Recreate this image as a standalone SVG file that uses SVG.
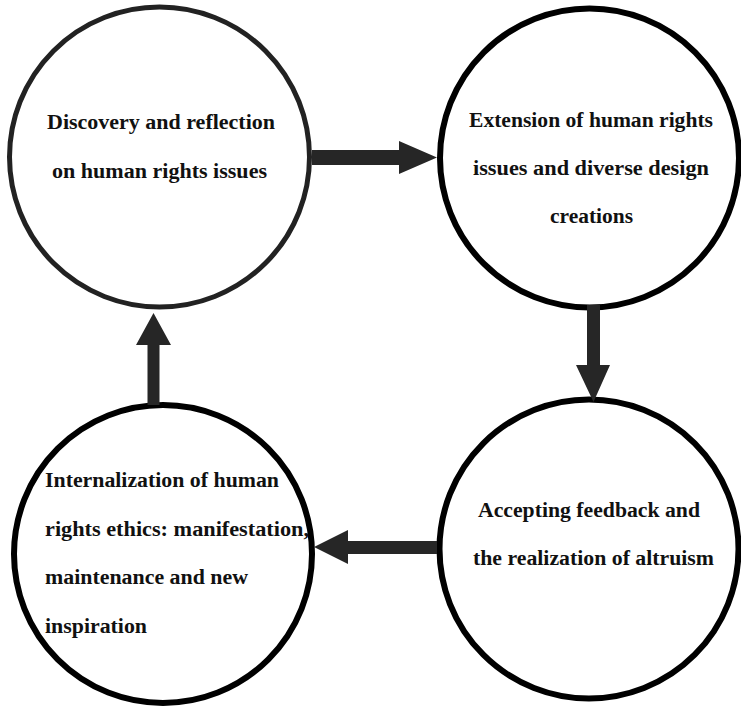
<svg xmlns="http://www.w3.org/2000/svg" width="741" height="706" viewBox="0 0 741 706">
  <style>
    .node { fill: #ffffff; stroke: #000000; stroke-width: 6; }
    .node1 { stroke: #222222; stroke-width: 5; }
    .lbl { font-family: "Liberation Serif", "Times New Roman", serif; font-weight: bold; font-size: 20px; fill: #111111; }
    .arrow { fill: #262626; stroke: none; }
  </style>
  <rect x="0" y="0" width="741" height="706" fill="#ffffff"/>

  <g id="node-discovery">
    <circle class="node node1" cx="159.5" cy="157" r="150"/>
    <text class="lbl" x="47" y="129" textLength="228" lengthAdjust="spacingAndGlyphs">Discovery and reflection</text>
    <text class="lbl" x="52" y="178" textLength="215" lengthAdjust="spacingAndGlyphs">on human rights issues</text>
  </g>

  <g id="node-extension">
    <circle class="node" cx="589.5" cy="158" r="149.5"/>
    <text class="lbl" x="469" y="127" textLength="244" lengthAdjust="spacingAndGlyphs">Extension of human rights</text>
    <text class="lbl" x="473" y="175" textLength="236" lengthAdjust="spacingAndGlyphs">issues and diverse design</text>
    <text class="lbl" x="550" y="223" textLength="83" lengthAdjust="spacingAndGlyphs">creations</text>
  </g>

  <g id="node-feedback">
    <circle class="node" cx="589" cy="549" r="149.5"/>
    <text class="lbl" x="478" y="517" textLength="222" lengthAdjust="spacingAndGlyphs">Accepting feedback and</text>
    <text class="lbl" x="473" y="565" textLength="241" lengthAdjust="spacingAndGlyphs">the realization of altruism</text>
  </g>

  <g id="node-internalization">
    <circle class="node" cx="163" cy="554" r="149"/>
    <text class="lbl" x="45" y="487" textLength="234" lengthAdjust="spacingAndGlyphs">Internalization of human</text>
    <text class="lbl" x="45" y="536" textLength="264" lengthAdjust="spacingAndGlyphs">rights ethics: manifestation,</text>
    <text class="lbl" x="45" y="584" textLength="203" lengthAdjust="spacingAndGlyphs">maintenance and new</text>
    <text class="lbl" x="45" y="633" textLength="102" lengthAdjust="spacingAndGlyphs">inspiration</text>
  </g>

  <g id="connectors">
    <path class="arrow" d="M312,150 L399,150 L399,141 L437,157.5 L399,174 L399,165 L312,165 Z"/>
    <path class="arrow" d="M587,305 L600,305 L600,365 L610,365 L593.5,402 L576,365 L587,365 Z"/>
    <path class="arrow" d="M437,541 L348,541 L348,530 L314,547 L348,564 L348,554 L437,554 Z"/>
    <path class="arrow" d="M147.5,405 L159.5,405 L159.5,345 L171,345 L153.5,313 L136,345 L147.5,345 Z"/>
  </g>
</svg>
